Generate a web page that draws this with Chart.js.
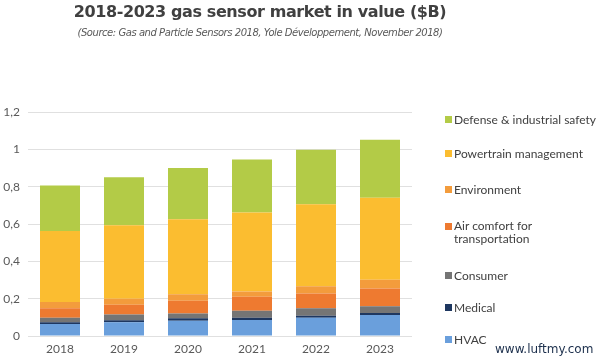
<!DOCTYPE html>
<html>
<head>
<meta charset="utf-8">
<script src="https://cdn.jsdelivr.net/npm/chart.js@4"></script>
<style>
  body { margin: 0; background: #fff; }
  #wrap { position: relative; width: 599px; height: 361px; overflow: hidden; }
  #chart { position: absolute; left: 0; top: 0; }
  .title { position: absolute; left: 0; width: 520px; text-align: center; color: #404040; white-space: nowrap; }
  #t1 { top: 2px; font: bold 16px "DejaVu Sans", sans-serif; letter-spacing: -0.4px; }
  #t2 { top: 27px; font: italic 10px "DejaVu Sans", sans-serif; letter-spacing: -0.45px; color: #595959; }
  #legend { position: absolute; left: 445px; top: 0; font: 12px Lato, sans-serif; color: #404040; }
  .item { position: absolute; left: 0; white-space: nowrap; line-height: 13px; }
  .item span.box { display: inline-block; width: 7px; height: 7px; margin-right: 2px; vertical-align: 1px; }
  .item .txt { display: inline-block; vertical-align: top; }
  #wm { position: absolute; left: 495px; top: 342px; font: 12px "DejaVu Sans", sans-serif; color: #1c2f4c; }
</style>
</head>
<body>
<div id="wrap">
  <canvas id="chart" width="599" height="361"></canvas>
  <div class="title" id="t1">2018-2023 gas sensor market in value ($B)</div>
  <div class="title" id="t2">(Source: Gas and Particle Sensors 2018, Yole Développement, November 2018)</div>
  <div id="legend"></div>
  <div id="wm">www.luftmy.com</div>
</div>
<script>
const years = ['2018', '2019', '2020', '2021', '2022', '2023']
const yTickLabels = ['0', '0,2', '0,4', '0,6', '0,8', '1', '1,2']

const hvac = [0.064, 0.073, 0.082, 0.086, 0.098, 0.112]
const medical = [0.009, 0.012, 0.013, 0.012, 0.010, 0.011]
const consumer = [0.025, 0.030, 0.026, 0.037, 0.040, 0.037]
const airComfort = [0.050, 0.053, 0.068, 0.075, 0.080, 0.095]
const environment = [0.034, 0.031, 0.034, 0.029, 0.039, 0.046]
const powertrain = [0.381, 0.394, 0.403, 0.422, 0.439, 0.439]
const defense = [0.243, 0.258, 0.274, 0.284, 0.292, 0.312]

const series = [
  { label: 'HVAC', data: hvac, color: '#6a9fdc', y: 333 },
  { label: 'Medical', data: medical, color: '#1e3760', y: 301 },
  { label: 'Consumer', data: consumer, color: '#757575', y: 269 },
  { label: ['Air comfort for', 'transportation'], data: airComfort, color: '#ee7a30', y: 219 },
  { label: 'Environment', data: environment, color: '#f39c3c', y: 183 },
  { label: 'Powertrain management', data: powertrain, color: '#fbbd30', y: 147 },
  { label: 'Defense & industrial safety', data: defense, color: '#b3cb47', y: 113 },
]

// legend, built by hand because the spacing is uneven
const legend = document.getElementById('legend')
series.forEach(s => {
  const div = document.createElement('div')
  div.className = 'item'
  div.style.top = s.y + 'px'
  const lines = Array.isArray(s.label) ? s.label : [s.label]
  div.innerHTML = `<span class="box" style="background:${s.color}"></span><span class="txt">${lines.join('<br>')}</span>`
  if (lines.length > 1) div.querySelector('.box').style.verticalAlign = 'top'
  if (lines.length > 1) div.querySelector('.box').style.marginTop = '4px'
  legend.appendChild(div)
})

const config = {
  type: 'bar',
  data: {
    labels: years,
    datasets: series.map(s => ({
      label: Array.isArray(s.label) ? s.label.join(' ') : s.label,
      data: s.data,
      backgroundColor: s.color,
      borderWidth: 0,
      categoryPercentage: 1,
      barPercentage: 0.625,
    })),
  },
  options: {
    responsive: false,
    animation: false,
    layout: { padding: { left: 0, top: 112, right: 187, bottom: 0 } },
    scales: {
      x: {
        stacked: true,
        grid: { display: false, drawTicks: false },
        border: { display: false },
        ticks: { color: '#595959', font: { family: 'Lato', size: 12 }, padding: 6 },
        afterFit: (scale) => { scale.height = 25 },
      },
      y: {
        stacked: true,
        min: 0,
        max: 1.2,
        grid: { color: '#e0e0e0', drawTicks: false },
        border: { display: false },
        ticks: {
          stepSize: 0.2,
          color: '#595959',
          font: { family: 'Lato', size: 12 },
          padding: 8,
          callback: (value, index) => yTickLabels[index],
        },
        afterFit: (scale) => { scale.width = 28 },
      },
    },
    plugins: {
      legend: { display: false },
      tooltip: { enabled: false },
    },
  },
}

new Chart(document.getElementById('chart'), config)
</script>
</body>
</html>
